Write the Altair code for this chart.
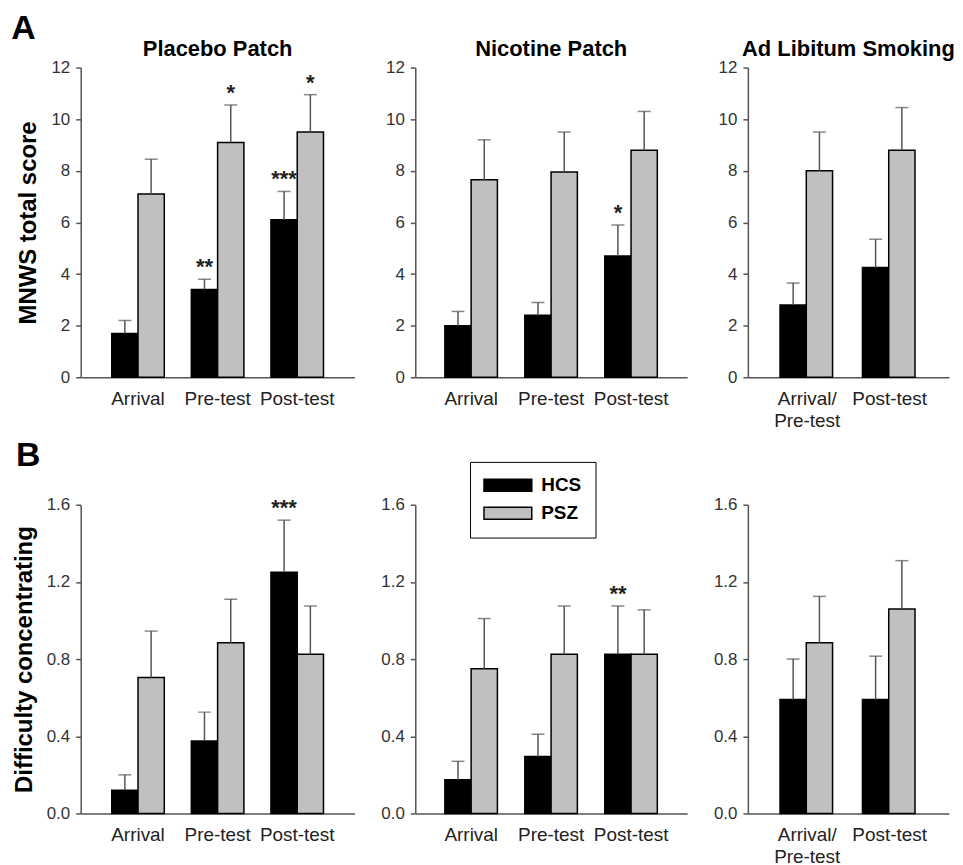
import altair as alt
import pandas as pd

FONT = "Liberation Sans"

# ---------------- data ----------------
groups = ["HCS", "PSZ"]
group_colors = ["#000000", "#c0c0c0"]
sessions3 = ["Arrival", "Pre-test", "Post-test"]
sessions2 = ["Arrival/|Pre-test", "Post-test"]
panel_titles = ["Placebo Patch", "Nicotine Patch", "Ad Libitum Smoking"]
row_letters = ["A", "B"]

mnws_ticks = [0, 2, 4, 6, 8, 10, 12]
conc_ticks = [0.0, 0.4, 0.8, 1.2, 1.6]

# Panel A: MNWS total score (mean, SEM, significance)
placebo_hcs = [1.7, 3.4, 6.1]
placebo_hcs_sem = [0.5, 0.4, 1.1]
placebo_hcs_sig = ["", "**", "***"]
placebo_psz = [7.1, 9.1, 9.5]
placebo_psz_sem = [1.35, 1.45, 1.45]
placebo_psz_sig = ["", "*", "*"]

nicotine_hcs = [2.0, 2.4, 4.7]
nicotine_hcs_sem = [0.55, 0.5, 1.2]
nicotine_hcs_sig = ["", "", "*"]
nicotine_psz = [7.65, 7.95, 8.8]
nicotine_psz_sem = [1.55, 1.55, 1.5]
nicotine_psz_sig = ["", "", ""]

adlib_hcs = [2.8, 4.25]
adlib_hcs_sem = [0.85, 1.1]
adlib_hcs_sig = ["", ""]
adlib_psz = [8.0, 8.8]
adlib_psz_sem = [1.5, 1.65]
adlib_psz_sig = ["", ""]

# Panel B: Difficulty concentrating
conc_placebo_hcs = [0.12, 0.375, 1.25]
conc_placebo_hcs_sem = [0.08, 0.15, 0.27]
conc_placebo_hcs_sig = ["", "", "***"]
conc_placebo_psz = [0.705, 0.885, 0.825]
conc_placebo_psz_sem = [0.24, 0.225, 0.25]
conc_placebo_psz_sig = ["", "", ""]

conc_nicotine_hcs = [0.175, 0.295, 0.825]
conc_nicotine_hcs_sem = [0.095, 0.115, 0.25]
conc_nicotine_hcs_sig = ["", "", "**"]
conc_nicotine_psz = [0.75, 0.825, 0.825]
conc_nicotine_psz_sem = [0.26, 0.25, 0.23]
conc_nicotine_psz_sig = ["", "", ""]

conc_adlib_hcs = [0.59, 0.59]
conc_adlib_hcs_sem = [0.21, 0.225]
conc_adlib_hcs_sig = ["", ""]
conc_adlib_psz = [0.885, 1.06]
conc_adlib_psz_sem = [0.24, 0.25]
conc_adlib_psz_sig = ["", ""]


def frame(cats, hcs, hcs_sem, hcs_sig, psz, psz_sem, psz_sig):
    rows = []
    for i, c in enumerate(cats):
        rows.append(dict(cat=c, grp="HCS", mean=hcs[i], top=hcs[i] + hcs_sem[i], sig=hcs_sig[i]))
        rows.append(dict(cat=c, grp="PSZ", mean=psz[i], top=psz[i] + psz_sem[i], sig=psz_sig[i]))
    return pd.DataFrame(rows)


AXIS_GRAY = "#555555"


def panel(df, cats, width, height, ymax, ticks, fmt, pad_outer,
          title=None, ytitle=None, letter=None, letter_y=-39, legend=False):
    xscale = alt.Scale(domain=cats, paddingInner=0.34, paddingOuter=pad_outer)
    xaxis = alt.Axis(labelAngle=0, ticks=False, tickSize=0, grid=False,
                     labelFontSize=19, labelFont=FONT, labelColor="#222222",
                     labelPadding=12, labelLineHeight=22,
                     labelExpr="split(datum.value, '|')",
                     domainColor=AXIS_GRAY, domainWidth=1.5)
    X = alt.X("cat:N", sort=cats, scale=xscale, axis=xaxis, title=None)
    XO = alt.XOffset("grp:N", scale=alt.Scale(domain=groups, paddingInner=0, paddingOuter=0))
    yscale = alt.Scale(domain=[0, ymax], nice=False, zero=True)
    yaxis = alt.Axis(values=ticks, format=fmt, grid=False,
                     tickSize=5, tickWidth=1.5, tickColor=AXIS_GRAY,
                     domainColor=AXIS_GRAY, domainWidth=1.5,
                     labelFontSize=17, labelFont=FONT, labelColor="#333333",
                     labelPadding=6,
                     titleFontSize=24, titleFont=FONT, titleFontWeight="bold",
                     titleColor="black", titlePadding=10)

    def Y(field):
        return alt.Y(field, scale=yscale, axis=yaxis, title=ytitle)

    if legend:
        leg = alt.Legend(title=None, orient="none", legendX=55, legendY=-43,
                         symbolType="M-4,-1H4V1H-4Z", symbolSize=144,
                         symbolStrokeColor="black", symbolStrokeWidth=1.5,
                         symbolOpacity=1, symbolOffset=14.5,
                         labelOffset=24, labelFontSize=19, labelFont=FONT,
                         labelFontWeight="bold", labelColor="black",
                         rowPadding=8, padding=14,
                         strokeColor="black", fillColor="white")
    else:
        leg = None
    fill = alt.Fill("grp:N", scale=alt.Scale(domain=groups, range=group_colors), legend=leg)

    base = alt.Chart(df)
    bars = base.mark_bar(stroke="black", strokeWidth=1.5).encode(x=X, xOffset=XO, y=Y("mean:Q"), fill=fill)
    err = base.mark_rule(color=AXIS_GRAY, strokeWidth=1.5).encode(
        x=X, xOffset=XO, y=Y("mean:Q"), y2="top:Q")
    caps = base.mark_tick(color=AXIS_GRAY, orient="horizontal", size=13, thickness=1.5).encode(
        x=X, xOffset=XO, y=Y("top:Q"))
    stars = base.mark_text(fontSize=22, fontWeight="bold", font=FONT, baseline="alphabetic",
                           dy=-5, color="#222222").encode(
        x=X, xOffset=XO, y=Y("top:Q"), text="sig:N")
    layers = [bars, err, caps, stars]
    if letter:
        lab = alt.Chart(pd.DataFrame({"letter": [letter]})).mark_text(
            fontSize=34, fontWeight="bold", font=FONT, align="left",
            baseline="alphabetic", color="black").encode(
            text="letter:N", x=alt.value(-65), y=alt.value(letter_y))
        layers.append(lab)
    props = dict(width=width, height=height)
    if title:
        props["title"] = alt.TitleParams(title, fontSize=22, font=FONT, fontWeight="bold",
                                         color="black", offset=-2, anchor="middle", frame="group")
    return alt.layer(*layers).properties(**props)


dA1 = frame(sessions3, placebo_hcs, placebo_hcs_sem, placebo_hcs_sig, placebo_psz, placebo_psz_sem, placebo_psz_sig)
dA2 = frame(sessions3, nicotine_hcs, nicotine_hcs_sem, nicotine_hcs_sig, nicotine_psz, nicotine_psz_sem, nicotine_psz_sig)
dA3 = frame(sessions2, adlib_hcs, adlib_hcs_sem, adlib_hcs_sig, adlib_psz, adlib_psz_sem, adlib_psz_sig)
dB1 = frame(sessions3, conc_placebo_hcs, conc_placebo_hcs_sem, conc_placebo_hcs_sig,
            conc_placebo_psz, conc_placebo_psz_sem, conc_placebo_psz_sig)
dB2 = frame(sessions3, conc_nicotine_hcs, conc_nicotine_hcs_sem, conc_nicotine_hcs_sig,
            conc_nicotine_psz, conc_nicotine_psz_sem, conc_nicotine_psz_sig)
dB3 = frame(sessions2, conc_adlib_hcs, conc_adlib_hcs_sem, conc_adlib_hcs_sig,
            conc_adlib_psz, conc_adlib_psz_sem, conc_adlib_psz_sig)

pA1 = panel(dA1, sessions3, 275, 311, 12, mnws_ticks, "d", 0.39,
            title=panel_titles[0], ytitle="MNWS total score")
pA2 = panel(dA2, sessions3, 273, 311, 12, mnws_ticks, "d", 0.37, title=panel_titles[1])
pA3 = panel(dA3, sessions2, 202, 311, 12, mnws_ticks, "d", 0.39, title=panel_titles[2])
pB1 = panel(dB1, sessions3, 275, 310, 1.6, conc_ticks, ".1f", 0.39,
            ytitle="Difficulty concentrating", letter=row_letters[1], letter_y=-39)
pB2 = panel(dB2, sessions3, 273, 310, 1.6, conc_ticks, ".1f", 0.37, legend=True)
pB3 = panel(dB3, sessions2, 202, 310, 1.6, conc_ticks, ".1f", 0.39)

chart = alt.concat(pA1, pA2, pA3, pB1, pB2, pB3, columns=3,
                   spacing=alt.RowColnumber(row=128, column=61),
                   bounds="flush", align="each",
                   title=alt.TitleParams(row_letters[0], anchor="start", frame="bounds",
                                         fontSize=34, fontWeight="bold", font=FONT,
                                         color="black", offset=-8, dx=-1)).resolve_scale(
    fill="independent"
).properties(
    padding={"left": 3, "top": 2, "right": 0, "bottom": 0},
    background="white"
).configure_view(stroke=None)

chart.save("out.html", embed_options={"renderer": "svg", "actions": False})
